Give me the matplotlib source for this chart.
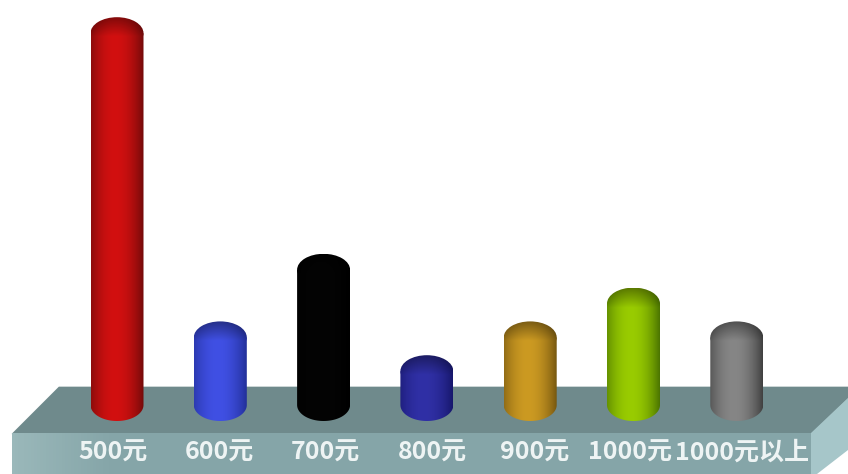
import numpy as np
import matplotlib
matplotlib.use("Agg")
import matplotlib.pyplot as plt
from matplotlib.patches import Polygon, Ellipse, PathPatch
from matplotlib.path import Path
from matplotlib.colors import to_rgb

plt.rcParams['font.family'] = ['Noto Sans CJK SC', 'DejaVu Sans']

categories = ["500元", "600元", "700元", "800元", "900元", "1000元", "1000元以上"]
values = [11, 2, 4, 1, 2, 3, 2]
edge_colors = ["#6a0a0a", "#222f98", "#000000", "#17176c", "#755610", "#4a7400", "#404040"]
mid_colors = ["#d21010", "#4050e4", "#040404", "#3030a6", "#cc9a22", "#99cc00", "#868686"]
label_px = [113, 219.5, 325.5, 432, 535, 629.5, 742]

W, H = 848, 474
fig = plt.figure(figsize=(W / 100, H / 100), dpi=100, facecolor="white")

# platform, in pixel coordinates
bg = fig.add_axes([0, 0, 1, 1])
bg.axis("off")
bg.add_patch(Polygon([(12, 434), (59, 387), (848, 387), (848, 398), (811, 434)],
                     closed=True, fc="#6f8a8c", ec="#6f8a8c", lw=0.5))
bg.add_patch(Polygon([(811, 433), (848, 398), (848, 450), (817, 474), (811, 474)],
                     closed=True, fc="#a6c6c9", ec="none"))
front = np.linspace(0, 1, 256).reshape(1, -1, 1)
c0, c1 = np.array(to_rgb("#9ab8ba")), np.array(to_rgb("#85a5a8"))
bg.imshow(np.clip(c0 + (c1 - c0) * np.minimum(front * 8, 1), 0, 1),
          extent=(12, 811, 474, 433.5), aspect="auto", zorder=1)
bg.set_xlim(0, W)
bg.set_ylim(H, 0)

# bars: one unit of x is one category, one unit of y is one count
PX_X, PX_Y = 103.3, 33.8
X0, Y0 = 117, 405
ax = fig.add_axes([0, 0, 1, 1])
ax.patch.set_alpha(0)
ax.axis("off")
xlim = ((0 - X0) / PX_X, (W - X0) / PX_X)
ylim = ((Y0 - H) / PX_Y, (Y0 - 0) / PX_Y)

hw = 26.5 / PX_X
eh = 16 / PX_Y

t = np.linspace(-1, 1, 200)
profile = np.clip(1 - np.abs((t + 0.1) / 1.1) ** 2.0, 0, 1)

for i, (v, ec, mc) in enumerate(zip(values, edge_colors, mid_colors)):
    e, m = np.array(to_rgb(ec)), np.array(to_rgb(mc))
    row = e + (m - e) * profile[:, None]
    th = np.linspace(np.pi, 2 * np.pi, 60)
    verts = [(i - hw, v)] + [(i + hw * np.cos(a), eh * np.sin(a)) for a in th] + [(i + hw, v), (i - hw, v)]
    body = PathPatch(Path(verts), fc="none", ec="none", transform=ax.transData)
    ax.add_patch(body)
    im = ax.imshow(row[None, :, :], extent=(i - hw, i + hw, -eh, v), aspect="auto", zorder=2)
    im.set_clip_path(body)
    # cap: blends into the body, darker only near the back rim
    vert = np.clip(np.linspace(0.6, 1.25, 60), 0, 1)[:, None, None]
    cap_img = np.clip(row[None, :, :] * vert, 0, 1)
    cap = Ellipse((i, v), 2 * hw, 2 * eh, fc="none", ec="none")
    ax.add_patch(cap)
    im2 = ax.imshow(cap_img, extent=(i - hw, i + hw, v - eh, v + eh), aspect="auto",
                    origin="upper", zorder=3)
    im2.set_clip_path(cap)
    ax.text((label_px[i] - X0) / PX_X, -1.4, categories[i], ha="center", va="center",
            color="#eef4f4", fontsize=18, fontweight="bold", zorder=4)

ax.set_xlim(*xlim)
ax.set_ylim(*ylim)
fig.savefig("out.png", dpi=100)
